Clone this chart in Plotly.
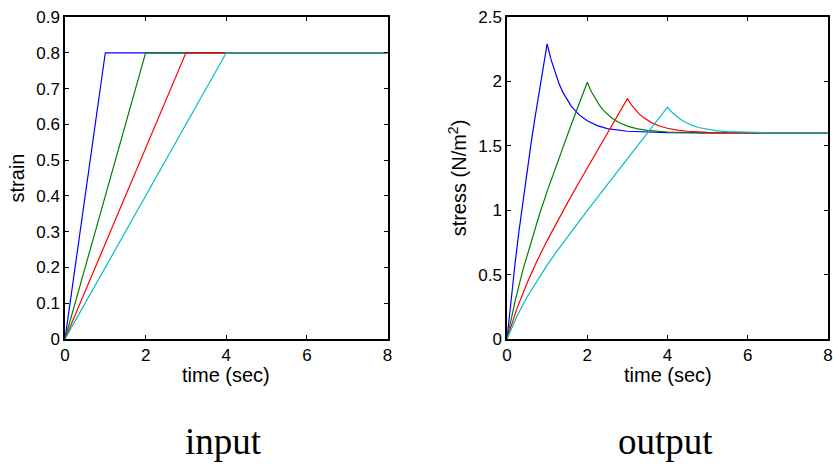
import plotly.graph_objects as go

# Ramp durations (sec) and colours for the four loading cases
ramp_times = [1, 2, 3, 4]
colors = ["#0000ff", "#008000", "#ff0000", "#00bfbf"]

# Input: strain histories (ramp to 0.8, then hold)
strain_t = [[0, 1, 8], [0, 2, 8], [0, 3, 8], [0, 4, 8]]
strain_v = [[0, 0.8, 0.8], [0, 0.8, 0.8], [0, 0.8, 0.8], [0, 0.8, 0.8]]

# Output: stress responses (N/m^2)
stress_t_blue = [0, 0.1, 0.2, 0.3, 0.4, 0.5, 0.6, 0.7, 0.8, 0.9, 1.0,
                 1.1, 1.2, 1.3, 1.4, 1.5, 1.6, 1.8, 2.0, 2.25, 2.5, 3.0, 3.5, 4.0, 5.0, 8.0]
stress_v_blue = [0, 0.305, 0.584, 0.841, 1.081, 1.306, 1.519, 1.723, 1.918, 2.108, 2.292,
                 2.167, 2.064, 1.980, 1.911, 1.855, 1.808, 1.740, 1.694, 1.657, 1.634, 1.613, 1.605, 1.602, 1.600, 1.600]

stress_t_green = [0, 0.2, 0.4, 0.6, 0.8, 1.0, 1.2, 1.4, 1.6, 1.8, 2.0,
                  2.1, 2.2, 2.3, 2.4, 2.5, 2.6, 2.8, 3.0, 3.25, 3.5, 4.0, 4.5, 5.0, 8.0]
stress_v_green = [0, 0.292, 0.540, 0.760, 0.959, 1.146, 1.324, 1.496, 1.664, 1.829, 1.993,
                  1.922, 1.863, 1.816, 1.777, 1.745, 1.718, 1.679, 1.653, 1.632, 1.620, 1.607, 1.603, 1.601, 1.600]

stress_t_red = [0, 0.25, 0.5, 0.75, 1.0, 1.25, 1.5, 1.75, 2.0, 2.25, 2.5, 2.75, 3.0,
                3.1, 3.2, 3.3, 3.4, 3.5, 3.6, 3.8, 4.0, 4.25, 4.5, 5.0, 5.5, 6.0, 8.0]
stress_v_red = [0, 0.238, 0.435, 0.607, 0.764, 0.912, 1.053, 1.192, 1.329, 1.464, 1.598, 1.733, 1.866,
                1.818, 1.778, 1.746, 1.720, 1.698, 1.680, 1.654, 1.636, 1.622, 1.613, 1.605, 1.602, 1.601, 1.600]

stress_t_cyan = [0, 0.25, 0.5, 0.75, 1.0, 1.25, 1.5, 1.75, 2.0, 2.5, 3.0, 3.5, 4.0,
                 4.1, 4.2, 4.3, 4.4, 4.5, 4.6, 4.8, 5.0, 5.25, 5.5, 6.0, 6.5, 8.0]
stress_v_cyan = [0, 0.179, 0.326, 0.455, 0.573, 0.684, 0.790, 0.894, 0.996, 1.199, 1.400, 1.600, 1.800,
                 1.764, 1.734, 1.710, 1.690, 1.674, 1.660, 1.640, 1.627, 1.616, 1.610, 1.604, 1.601, 1.600]

stress_t = [stress_t_blue, stress_t_green, stress_t_red, stress_t_cyan]
stress_v = [stress_v_blue, stress_v_green, stress_v_red, stress_v_cyan]

fig = go.Figure()

for t, v, c in zip(strain_t, strain_v, colors):
    fig.add_trace(go.Scatter(x=t, y=v, mode="lines", line=dict(color=c, width=1.2),
                             xaxis="x", yaxis="y", showlegend=False, hoverinfo="skip"))

for t, v, c in zip(stress_t, stress_v, colors):
    fig.add_trace(go.Scatter(x=t, y=v, mode="lines", line=dict(color=c, width=1.2),
                             xaxis="x2", yaxis="y2", showlegend=False, hoverinfo="skip"))

W, H = 833, 467
y_dom = [128 / H, 450 / H]
x1_dom = [65 / W, 387.5 / W]
x2_dom = [507 / W, 828 / W]

axis_common = dict(
    showline=True, linecolor="black", linewidth=1.5, mirror="ticks",
    ticks="inside", ticklen=4, tickwidth=1, tickcolor="black",
    showgrid=False, zeroline=False, automargin=False,
    tickfont=dict(family="Liberation Sans, Arial, sans-serif", size=17, color="black"),
)
title_font = dict(family="Liberation Sans, Arial, sans-serif", size=20, color="black")
caption_font = dict(family="Liberation Serif, Times New Roman, serif", size=37, color="black")


def paper_text(text, x, y, font, yanchor="middle"):
    return dict(text=text, x=x, y=y, xref="paper", yref="paper",
                xanchor="center", yanchor=yanchor, showarrow=False, font=font)


fig.update_layout(
    width=W, height=H,
    margin=dict(l=0, r=0, t=0, b=0, autoexpand=False),
    paper_bgcolor="white", plot_bgcolor="white",
    xaxis=dict(domain=x1_dom, range=[0, 8], dtick=2, anchor="y", **axis_common),
    yaxis=dict(domain=y_dom, range=[0, 0.9], dtick=0.1, anchor="x",
               title=dict(text="strain", font=title_font, standoff=6), **axis_common),
    xaxis2=dict(domain=x2_dom, range=[0, 8], dtick=2, anchor="y2", **axis_common),
    yaxis2=dict(domain=y_dom, range=[0, 2.5], dtick=0.5, anchor="x2",
                title=dict(text="stress (N/m<sup>2</sup>)", font=title_font, standoff=6), **axis_common),
    annotations=[
        paper_text("time (sec)", sum(x1_dom) / 2, (467 - 375) / H, title_font),
        paper_text("time (sec)", sum(x2_dom) / 2, (467 - 375) / H, title_font),
        paper_text("input", 223 / W, 3 / H, caption_font, yanchor="bottom"),
        paper_text("output", 665 / W, 3 / H, caption_font, yanchor="bottom"),
    ],
)

fig.write_html("out.html")
